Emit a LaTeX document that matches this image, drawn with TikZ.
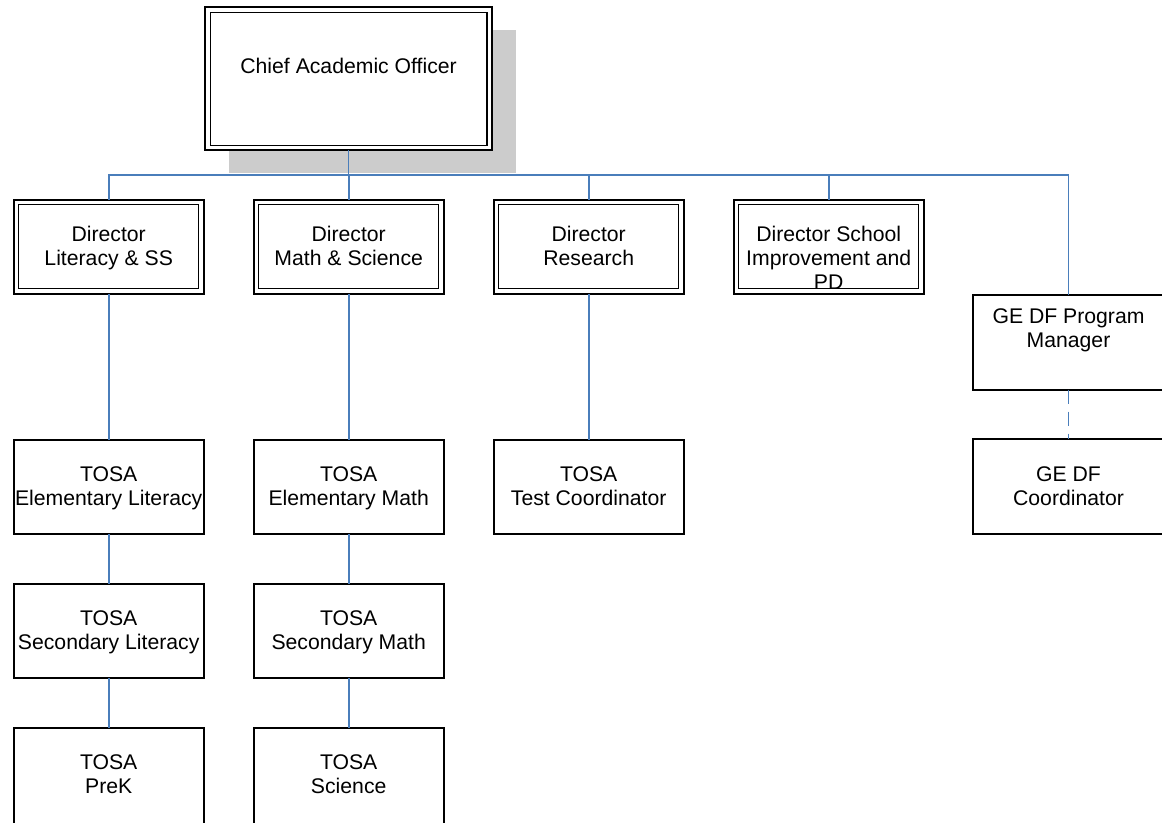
\documentclass[tikz,border=0pt]{standalone}
\usepackage{fontspec}
\setmainfont{Liberation Sans}
\usetikzlibrary{backgrounds}
\definecolor{connblue}{RGB}{74,126,187}
\definecolor{shadowgray}{RGB}{204,204,204}
\begin{document}
\begin{tikzpicture}[x=0.75pt,y=-0.75pt,
  box/.style={draw=black,line width=1.5pt,fill=white,inner sep=0pt,outer sep=0pt,
    minimum width=142.7pt,minimum height=70.6pt},
  tallbox/.style={box,minimum height=76pt},
  chiefbox/.style={box,minimum width=215pt,minimum height=107.3pt},
  lbl/.style={font=\fontsize{15.9}{18}\selectfont,align=center,inner sep=0pt,anchor=north},
  conn/.style={draw=connblue,line width=1.3pt},
  dashconn/.style={conn,dash pattern=on 10.5pt off 6pt},
  innerline/.style={draw=black,line width=0.9pt}
]
\useasboundingbox (0,0) rectangle (1162,822);
\clip (0,0) rectangle (1162,822);

% boxes
\node[chiefbox] (chief) at (348.6,78.9) {};
\node[box] (dlit)  at (108.7,246.7) {};
\node[box] (dmath) at (348.7,246.7) {};
\node[box] (dres)  at (588.7,246.7) {};
\node[box] (dsch)  at (828.7,246.7) {};
\node[box] (gepm)  at (1068.5,342.5) {};

\node[box] (tel) at (108.7,487) {};
\node[box] (tsl) at (108.7,631) {};
\node[tallbox] (tpk) at (108.7,778.5) {};
\node[box] (tem) at (348.7,487) {};
\node[box] (tsm) at (348.7,631) {};
\node[tallbox] (tsc) at (348.7,778.5) {};
\node[box] (ttc) at (588.7,487) {};
\node[box] (gec) at (1068.5,486.5) {};

% shadow of the chief box
\begin{scope}[on background layer]
  \fill[shadowgray] ([shift={(24,23)}]chief.north west) rectangle ([shift={(24,23)}]chief.south east);
\end{scope}

% inner lines of double borders
\foreach \b in {chief,dlit,dmath,dres,dsch}{
  \draw[innerline] ([shift={(5,5)}]\b.north west) rectangle ([shift={(-5,-5)}]\b.south east);
}

% connectors
\coordinate (busL) at (108.7,175);
\coordinate (busR) at (1068.5,175);
\draw[conn] (chief.south) -- (chief.south |- busL);
\draw[conn] (dlit.north) -- (busL) -- (busR) -- (gepm.north);
\draw[conn] (dmath.north) -- (dmath.north |- busL);
\draw[conn] (dres.north) -- (dres.north |- busL);
\draw[conn] (dsch.north) -- (dsch.north |- busL);

\draw[conn] (dlit.south) -- (tel.north);
\draw[conn] (tel.south) -- (tsl.north);
\draw[conn] (tsl.south) -- (tpk.north);
\draw[conn] (dmath.south) -- (tem.north);
\draw[conn] (tem.south) -- (tsm.north);
\draw[conn] (tsm.south) -- (tsc.north);
\draw[conn] (dres.south) -- (ttc.north);
\draw[dashconn] (gepm.south) -- (gec.north);

% labels
\node[lbl] (lchief) at ([shift={(0,48.6)}]chief.north) {\strut Chief Academic Officer};
\node[lbl] (ldlit)  at ([shift={(0,24.7)}]dlit.north)  {\strut Director\\Literacy \& SS};
\node[lbl] (ldmath) at ([shift={(0,24.7)}]dmath.north) {\strut Director\\Math \& Science};
\node[lbl] (ldres)  at ([shift={(0,24.7)}]dres.north)  {\strut Director\\Research};
\node[lbl] (ldsch)  at ([shift={(0,24.7)}]dsch.north)  {\strut Director School\\Improvement and\\PD};
\node[lbl] (lgepm)  at ([shift={(0,11)}]gepm.north)    {\strut GE DF Program\\Manager};
\node[lbl] (ltel) at ([shift={(0,24.2)}]tel.north) {\strut TOSA\\Elementary Literacy};
\node[lbl] (ltsl) at ([shift={(0,24.2)}]tsl.north) {\strut TOSA\\Secondary Literacy};
\node[lbl] (ltpk) at ([shift={(0,24.2)}]tpk.north) {\strut TOSA\\PreK};
\node[lbl] (ltem) at ([shift={(0,24.2)}]tem.north) {\strut TOSA\\Elementary Math};
\node[lbl] (ltsm) at ([shift={(0,24.2)}]tsm.north) {\strut TOSA\\Secondary Math};
\node[lbl] (ltsc) at ([shift={(0,24.2)}]tsc.north) {\strut TOSA\\Science};
\node[lbl] (lttc) at ([shift={(0,24.2)}]ttc.north) {\strut TOSA\\Test Coordinator};
\node[lbl] (lgec) at ([shift={(0,24.7)}]gec.north) {\strut GE DF\\Coordinator};
\end{tikzpicture}
\end{document}
